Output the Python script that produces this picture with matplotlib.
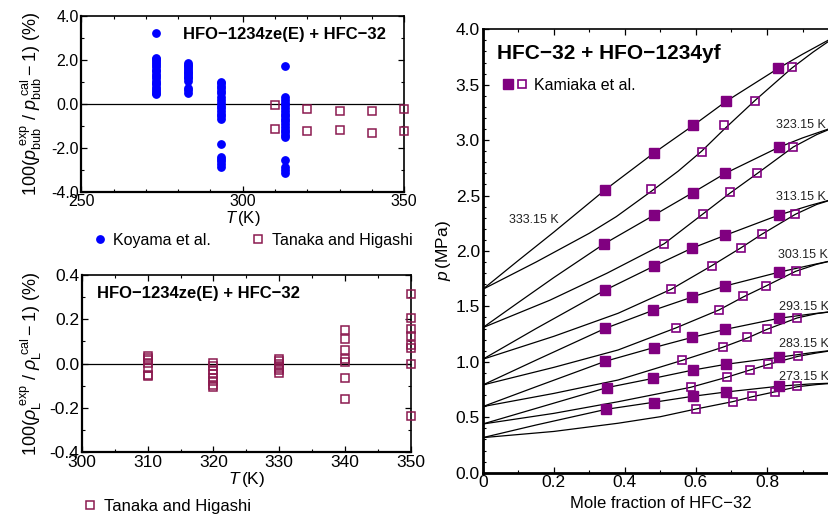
import matplotlib
matplotlib.use("Agg")
import matplotlib.pyplot as plt
from matplotlib.legend_handler import HandlerTuple
from matplotlib.ticker import MultipleLocator, FormatStrFormatter

plt.rcParams['font.family'] = ['Liberation Sans', 'DejaVu Sans']
plt.rcParams['mathtext.fontset'] = 'custom'
plt.rcParams['mathtext.rm'] = 'Liberation Sans'
plt.rcParams['mathtext.it'] = 'Liberation Sans:italic'
plt.rcParams['mathtext.bf'] = 'Liberation Sans:bold'
plt.rcParams['axes.unicode_minus'] = True

# ---------------- bubble-pressure deviations, HFO-1234ze(E) + HFC-32 ----------------
koyama_T = [273.15, 283.15, 293.15, 313.15]
koyama_dev = [
    [3.22, 2.10, 2.02, 1.95, 1.86, 1.78, 1.66, 1.55, 1.47, 1.36, 1.25, 1.18,
     1.05, 0.96, 0.88, 0.75, 0.66, 0.58, 0.50, 0.45],
    [1.85, 1.78, 1.70, 1.62, 1.52, 1.45, 1.38, 1.30, 1.22, 1.15, 1.05, 0.72,
     0.62, 0.48],
    [1.00, 0.92, 0.82, 0.70, 0.60, 0.48, 0.30, 0.15, 0.05, -0.10, -0.20, -0.32,
     -0.45, -0.58, -0.68, -1.83, -2.40, -2.50, -2.62, -2.75, -2.86],
    [1.73, 0.30, 0.18, 0.05, -0.08, -0.20, -0.32, -0.45, -0.55, -0.68, -0.80,
     -0.92, -1.05, -1.18, -1.30, -1.40, -1.52, -2.56, -2.88, -3.00, -3.15],
]
tanaka_p_T = [310, 310, 320, 320, 330, 330, 340, 340, 350, 350]
tanaka_p_dev = [-0.06, -1.15, -0.26, -1.24, -0.33, -1.21, -0.33, -1.35, -0.24, -1.23]

# ---------------- liquid-density deviations ----------------
tanaka_rho_T = [310, 320, 330, 340, 350]
tanaka_rho_dev = [
    [0.035, 0.025, 0.015, 0.002, -0.018, -0.050, -0.055],
    [0.005, -0.010, -0.030, -0.045, -0.065, -0.080, -0.095, -0.105],
    [0.022, 0.012, 0.000, -0.010, -0.020, -0.030, -0.040],
    [0.153, 0.111, 0.060, 0.023, 0.006, -0.063, -0.158],
    [0.313, 0.208, 0.158, 0.123, 0.083, 0.072, 0.000, -0.238],
]

# ---------------- VLE of HFC-32 + HFO-1234yf ----------------
temps = ["273.15 K", "283.15 K", "293.15 K", "303.15 K", "313.15 K", "323.15 K", "333.15 K"]

bubble_x = [
    [0, 0.15, 0.348, 0.481, 0.593, 0.685, 0.834, 0.92, 1.0],
    [0, 0.15, 0.349, 0.480, 0.592, 0.685, 0.834, 0.92, 1.0],
    [0, 0.15, 0.345, 0.481, 0.590, 0.683, 0.834, 0.92, 1.0],
    [0, 0.15, 0.345, 0.480, 0.590, 0.682, 0.833, 0.92, 1.0],
    [0, 0.15, 0.345, 0.483, 0.588, 0.682, 0.834, 0.92, 1.0],
    [0, 0.10, 0.20, 0.342, 0.483, 0.591, 0.683, 0.833, 0.90, 1.0],
    [0, 0.10, 0.20, 0.345, 0.483, 0.593, 0.685, 0.832, 0.90, 1.0],
]
bubble_p = [
    [0.316, 0.430, 0.572, 0.635, 0.690, 0.728, 0.780, 0.800, 0.810],
    [0.439, 0.580, 0.767, 0.851, 0.926, 0.978, 1.041, 1.080, 1.110],
    [0.596, 0.775, 1.005, 1.128, 1.221, 1.293, 1.393, 1.430, 1.460],
    [0.791, 1.015, 1.302, 1.465, 1.585, 1.684, 1.808, 1.870, 1.925],
    [1.023, 1.300, 1.648, 1.865, 2.024, 2.141, 2.325, 2.410, 2.480],
    [1.308, 1.535, 1.760, 2.065, 2.325, 2.526, 2.701, 2.935, 3.020, 3.130],
    [1.654, 1.914, 2.170, 2.553, 2.887, 3.134, 3.350, 3.648, 3.775, 3.950],
]
dew_x = [
    [0, 0.20, 0.381, 0.50, 0.601, 0.704, 0.758, 0.823, 0.885, 0.94, 1.0],
    [0, 0.20, 0.381, 0.585, 0.687, 0.752, 0.802, 0.888, 0.94, 1.0],
    [0, 0.20, 0.381, 0.562, 0.675, 0.745, 0.800, 0.885, 0.94, 1.0],
    [0, 0.20, 0.381, 0.543, 0.665, 0.733, 0.797, 0.881, 0.94, 1.0],
    [0, 0.20, 0.381, 0.530, 0.645, 0.726, 0.785, 0.880, 0.94, 1.0],
    [0, 0.189, 0.35, 0.511, 0.621, 0.695, 0.773, 0.874, 0.94, 1.0],
    [0, 0.15, 0.30, 0.376, 0.475, 0.55, 0.616, 0.68, 0.767, 0.87, 0.93, 1.0],
]
dew_p = [
    [0.316, 0.372, 0.446, 0.505, 0.575, 0.641, 0.685, 0.730, 0.775, 0.795, 0.810],
    [0.439, 0.535, 0.640, 0.770, 0.861, 0.926, 0.975, 1.050, 1.080, 1.110],
    [0.596, 0.715, 0.836, 1.014, 1.131, 1.215, 1.293, 1.396, 1.435, 1.460],
    [0.791, 0.950, 1.107, 1.305, 1.468, 1.585, 1.684, 1.817, 1.880, 1.925],
    [1.023, 1.230, 1.438, 1.654, 1.868, 2.027, 2.150, 2.331, 2.420, 2.480],
    [1.308, 1.556, 1.800, 2.066, 2.337, 2.520, 2.700, 2.938, 3.050, 3.130],
    [1.654, 1.900, 2.160, 2.310, 2.540, 2.720, 2.900, 3.100, 3.360, 3.650, 3.795, 3.950],
]

# Kamiaka et al. liquid (filled) and vapour (open) compositions
liq_x = [
    [0.348, 0.481, 0.593, 0.685, 0.834],
    [0.349, 0.480, 0.592, 0.685, 0.834],
    [0.345, 0.481, 0.590, 0.683, 0.834],
    [0.345, 0.480, 0.590, 0.682, 0.833],
    [0.345, 0.483, 0.588, 0.682, 0.834],
    [0.342, 0.483, 0.591, 0.683, 0.833],
    [0.345, 0.483, 0.593, 0.685, 0.832],
]
liq_p = [
    [0.572, 0.632, 0.695, 0.725, 0.782],
    [0.767, 0.851, 0.926, 0.978, 1.041],
    [1.005, 1.128, 1.221, 1.293, 1.393],
    [1.302, 1.465, 1.585, 1.684, 1.808],
    [1.648, 1.865, 2.024, 2.141, 2.325],
    [2.065, 2.325, 2.526, 2.701, 2.935],
    [2.553, 2.887, 3.134, 3.350, 3.648],
]
vap_x = [
    [0.601, 0.704, 0.758, 0.823, 0.885],
    [0.585, 0.687, 0.752, 0.802, 0.888],
    [0.562, 0.675, 0.745, 0.800, 0.885],
    [0.543, 0.665, 0.733, 0.797, 0.881],
    [0.530, 0.645, 0.726, 0.785, 0.880],
    [0.511, 0.621, 0.695, 0.773, 0.874],
    [0.475, 0.616, 0.680, 0.767, 0.870],
]
vap_p = [
    [0.575, 0.641, 0.692, 0.725, 0.782],
    [0.770, 0.861, 0.926, 0.981, 1.050],
    [1.014, 1.131, 1.224, 1.293, 1.396],
    [1.305, 1.468, 1.591, 1.684, 1.817],
    [1.654, 1.868, 2.027, 2.150, 2.331],
    [2.066, 2.337, 2.535, 2.701, 2.938],
    [2.557, 2.893, 3.137, 3.356, 3.657],
]
label_x = [0.834, 0.834, 0.834, 0.830, 0.826, 0.826, 0.074]
label_p = [0.866, 1.158, 1.492, 1.964, 2.490, 3.137, 2.278]

MAROON = '#8B1A4F'
BLUE = '#0000FF'
PURPLE = '#800080'

fig = plt.figure(figsize=(8.29, 5.14), dpi=100)


def style_axes(ax, lw_lb=1.6, lw_rt=1.2, fs=11.5):
    for s in ('left', 'bottom'):
        ax.spines[s].set_linewidth(lw_lb)
    for s in ('right', 'top'):
        ax.spines[s].set_linewidth(lw_rt)
    ax.tick_params(which='both', direction='in', top=True, right=True,
                   labelsize=fs, pad=2)
    ax.tick_params(which='major', length=4, width=0.9)
    ax.tick_params(which='minor', length=2.5, width=0.8)


# ---- top-left panel ----
ax1 = fig.add_axes([0.0981, 0.627, 0.3893, 0.3424])
for T, vals in zip(koyama_T, koyama_dev):
    ax1.plot([T] * len(vals), vals, 'o', color=BLUE, ms=5.3, mec=BLUE,
             label='Koyama et al.' if T == koyama_T[0] else None, clip_on=False)
ax1.plot(tanaka_p_T, tanaka_p_dev, 's', mfc='none', mec=MAROON, mew=1.1, ms=6.3,
         label='Tanaka and Higashi', clip_on=False, zorder=4)
ax1.axhline(0, color='black', lw=0.9, zorder=1)
ax1.set_xlim(250, 350)
ax1.set_ylim(-4, 4)
ax1.xaxis.set_major_locator(MultipleLocator(50))
ax1.xaxis.set_minor_locator(MultipleLocator(10))
ax1.yaxis.set_major_locator(MultipleLocator(2))
ax1.yaxis.set_minor_locator(MultipleLocator(1))
ax1.yaxis.set_major_formatter(FormatStrFormatter('%.1f'))
style_axes(ax1, fs=11.5)
ax1.set_xlabel(r'$T\,$(K)', fontsize=12, labelpad=0)
ax1.set_ylabel(r'$100(p_{\mathrm{bub}}^{\ \mathrm{exp}}\ /\ p_{\mathrm{bub}}^{\ \mathrm{cal}}-1)$ (%)',
               fontsize=13, labelpad=5)
ax1.text(0.943, 0.895, 'HFO\u22121234ze(E) + HFC\u221232', transform=ax1.transAxes,
         ha='right', va='center', fontsize=12, fontweight='bold')
ax1.legend(loc='upper center', bbox_to_anchor=(0.527, -0.235), ncol=2, frameon=False,
           fontsize=11.5, handletextpad=0.25, columnspacing=2.35, handlelength=1.2,
           borderaxespad=0, borderpad=0)

# ---- bottom-left panel ----
ax2 = fig.add_axes([0.0989, 0.12, 0.3965, 0.345])
for i, (T, vals) in enumerate(zip(tanaka_rho_T, tanaka_rho_dev)):
    ax2.plot([T] * len(vals), vals, 's', mfc='none', mec=MAROON, mew=1.1, ms=6.3,
             label='Tanaka and Higashi' if i == 0 else None, clip_on=False, zorder=4)
ax2.axhline(0, color='black', lw=0.9, zorder=1)
ax2.set_xlim(300, 350)
ax2.set_ylim(-0.4, 0.4)
ax2.xaxis.set_major_locator(MultipleLocator(10))
ax2.xaxis.set_minor_locator(MultipleLocator(5))
ax2.yaxis.set_major_locator(MultipleLocator(0.2))
ax2.yaxis.set_minor_locator(MultipleLocator(0.1))
ax2.yaxis.set_major_formatter(FormatStrFormatter('%.1f'))
style_axes(ax2, fs=12.5)
ax2.set_xlabel(r'$T\,$(K)', fontsize=12.5, labelpad=0)
ax2.set_ylabel(r'$100(\rho_{\mathrm{L}}^{\ \mathrm{exp}}\ /\ \rho_{\mathrm{L}}^{\ \mathrm{cal}}-1)$ (%)',
               fontsize=13, labelpad=4)
ax2.text(0.046, 0.898, 'HFO\u22121234ze(E) + HFC\u221232', transform=ax2.transAxes,
         ha='left', va='center', fontsize=12, fontweight='bold')
ax2.legend(loc='upper left', bbox_to_anchor=(0.0, -0.265), frameon=False,
           fontsize=12, handletextpad=0.3, handlelength=1.0,
           borderaxespad=0, borderpad=0)

# ---- right panel ----
ax3 = fig.add_axes([0.5823, 0.0804, 0.4286, 0.8626])
for bx, bp, dx, dp in zip(bubble_x, bubble_p, dew_x, dew_p):
    ax3.plot(bx, bp, color='black', lw=0.9)
    ax3.plot(dx, dp, color='black', lw=0.9)
h_open = None
h_fill = None
for lx, lp, vx, vp in zip(liq_x, liq_p, vap_x, vap_p):
    h_open, = ax3.plot(vx, vp, 's', mfc='none', mec=PURPLE, mew=1.2, ms=6.4, zorder=4)
    h_fill, = ax3.plot(lx, lp, 's', color=PURPLE, ms=6.8, zorder=4)
for t, tx, tp in zip(temps, label_x, label_p):
    ax3.text(tx, tp, t, fontsize=9, ha='left', va='center', clip_on=False,
             color='#222222')
ax3.set_xlim(0, 1.0)
ax3.set_ylim(0, 4.0)
ax3.xaxis.set_major_locator(MultipleLocator(0.2))
ax3.xaxis.set_minor_locator(MultipleLocator(0.1))
ax3.yaxis.set_major_locator(MultipleLocator(0.5))
ax3.yaxis.set_minor_locator(MultipleLocator(0.1))
ax3.xaxis.set_major_formatter(FormatStrFormatter('%g'))
ax3.yaxis.set_major_formatter(FormatStrFormatter('%.1f'))
style_axes(ax3, lw_lb=2.0, lw_rt=1.2, fs=12.5)
ax3.set_xlabel('Mole fraction of HFC\u221232', fontsize=12, labelpad=4)
ax3.set_ylabel(r'$p\,$(MPa)', fontsize=12.5, labelpad=2)
ax3.text(0.04, 0.945, 'HFC\u221232 + HFO\u22121234yf', transform=ax3.transAxes,
         ha='left', va='center', fontsize=15, fontweight='bold')
ax3.legend([(h_fill, h_open)], ['Kamiaka et al.'],
           handler_map={tuple: HandlerTuple(ndivide=None, pad=0.2)},
           loc='upper left', bbox_to_anchor=(0.055, 0.89), frameon=False,
           fontsize=11.5, handlelength=1.6, handletextpad=0.4,
           borderaxespad=0, borderpad=0)

fig.savefig('out.png', dpi=100)
